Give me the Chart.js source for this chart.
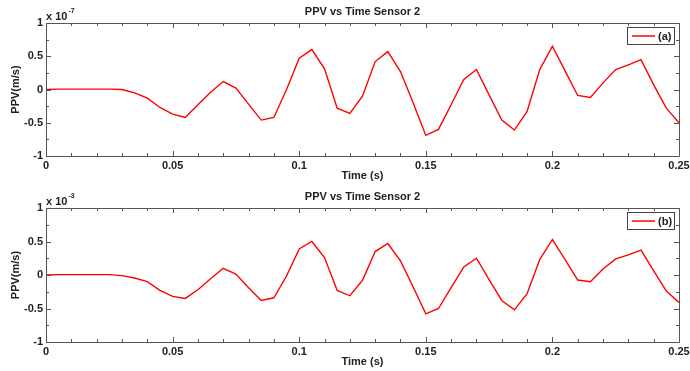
<!DOCTYPE html>
<html>
<head>
<meta charset="utf-8">
<script src="https://cdn.jsdelivr.net/npm/chart.js@4/dist/chart.umd.min.js"></script>
<style>
    html, body { margin: 0; padding: 0; background: #fff; }
    .plot { position: absolute; left: 0; width: 690px; }
    #chartA { top: 0; height: 185px; }
    #chartB { top: 185px; height: 186px; }
</style>
</head>
<body>
<div class="plot" id="chartA"><canvas id="canvasA" width="690" height="185"></canvas></div>
<div class="plot" id="chartB"><canvas id="canvasB" width="690" height="186"></canvas></div>
<script>
// Time samples (s)
const timeValues = [
    0, 0.005, 0.01, 0.015, 0.02, 0.025, 0.03, 0.035, 0.04, 0.045,
    0.05, 0.055, 0.06, 0.065, 0.07, 0.075, 0.08, 0.085, 0.09, 0.095,
    0.1, 0.105, 0.11, 0.115, 0.12, 0.125, 0.13, 0.135, 0.14, 0.145,
    0.15, 0.155, 0.16, 0.165, 0.17, 0.175, 0.18, 0.185, 0.19, 0.195,
    0.2, 0.205, 0.21, 0.215, 0.22, 0.225, 0.23, 0.235, 0.24, 0.245, 0.25
];

// PPV (a), in units of 10^-7 m/s
const ppvA = [
    0, 0.005, 0.005, 0.005, 0.005, 0.005, 0, -0.05, -0.13, -0.27,
    -0.37, -0.42, -0.23, -0.04, 0.12, 0.02, -0.22, -0.46, -0.42, 0.0,
    0.47, 0.6, 0.31, -0.28, -0.36, -0.1, 0.42, 0.57, 0.27, -0.2,
    -0.69, -0.6, -0.23, 0.15, 0.3, -0.08, -0.46, -0.61, -0.33, 0.3,
    0.65, 0.28, -0.09, -0.12, 0.1, 0.3, 0.37, 0.45, 0.07, -0.28, -0.5
];

// PPV (b), in units of 10^-3 m/s
const ppvB = [
    0, 0.005, 0.005, 0.005, 0.005, 0.005, -0.01, -0.045, -0.1, -0.23,
    -0.32, -0.35, -0.22, -0.055, 0.1, 0.015, -0.19, -0.38, -0.34, -0.015,
    0.39, 0.5, 0.26, -0.23, -0.31, -0.08, 0.35, 0.47, 0.21, -0.18,
    -0.58, -0.5, -0.19, 0.12, 0.25, -0.07, -0.38, -0.52, -0.28, 0.23,
    0.53, 0.23, -0.075, -0.1, 0.09, 0.24, 0.3, 0.37, 0.06, -0.24, -0.41
];

const xTickLabels = ['0', '0.05', '0.1', '0.15', '0.2', '0.25'];
const yTickLabels = ['-1', '-0.5', '0', '0.5', '1'];

const FONT = '"Liberation Sans", Arial, Helvetica, sans-serif';
const AXIS_COLOR = '#555';
const TEXT_COLOR = '#222';

// Draws the matlab-like box, inward ticks, title, exponent and legend
const matlabFrame = {
    id: 'matlabFrame',
    afterDatasetsDraw(chart, args, opts) {
        const ctx = chart.ctx;
        const area = chart.chartArea;
        const xs = chart.scales.x;
        const ys = chart.scales.y;
        ctx.save();
        ctx.strokeStyle = AXIS_COLOR;
        ctx.lineWidth = 1;
        ctx.beginPath();
        ctx.rect(Math.round(area.left) + 0.5, Math.round(area.top) + 0.5,
            Math.round(area.right - area.left), Math.round(area.bottom - area.top));
        ctx.stroke();

        // x ticks every 0.01, longer at labelled positions
        ctx.beginPath();
        for (let i = 0; i <= 25; i++) {
            const px = Math.round(xs.getPixelForValue(i / 100)) + 0.5;
            const len = i % 5 === 0 ? 5 : 3;
            ctx.moveTo(px, area.bottom); ctx.lineTo(px, area.bottom - len);
            ctx.moveTo(px, area.top); ctx.lineTo(px, area.top + len);
        }
        // y ticks every 0.25
        for (let j = -4; j <= 4; j++) {
            const py = Math.round(ys.getPixelForValue(j / 4)) + 0.5;
            const len = j % 2 === 0 ? 5 : 3;
            ctx.moveTo(area.left, py); ctx.lineTo(area.left + len, py);
            ctx.moveTo(area.right, py); ctx.lineTo(area.right - len, py);
        }
        ctx.stroke();

        // title
        ctx.fillStyle = TEXT_COLOR;
        ctx.font = 'bold 11px ' + FONT;
        ctx.textAlign = 'center';
        ctx.textBaseline = 'middle';
        ctx.fillText(opts.title, (area.left + area.right) / 2, 12);

        // exponent label
        ctx.textAlign = 'left';
        ctx.font = 'bold 11px ' + FONT;
        ctx.fillText('x 10', area.left, 17);
        const w = ctx.measureText('x 10').width;
        ctx.font = 'bold 7px ' + FONT;
        ctx.fillText(opts.exponent, area.left + w + 1, 11);

        // legend box
        const bx = 627.5, by = 27.5, bw = 47, bh = 17;
        ctx.fillStyle = '#fff';
        ctx.fillRect(bx, by, bw, bh);
        ctx.strokeStyle = '#444';
        ctx.strokeRect(bx, by, bw, bh);
        ctx.strokeStyle = 'rgb(255,0,0)';
        ctx.lineWidth = 1.5;
        ctx.beginPath();
        ctx.moveTo(632, by + bh / 2);
        ctx.lineTo(655, by + bh / 2);
        ctx.stroke();
        ctx.fillStyle = TEXT_COLOR;
        ctx.font = 'bold 11px ' + FONT;
        ctx.textBaseline = 'middle';
        ctx.fillText(opts.label, 658, by + bh / 2 + 0.5);
        ctx.restore();
    }
};

function buildChart(canvasId, series, label, exponent) {
    const points = timeValues.map((t, i) => ({ x: t, y: series[i] }));
    return new Chart(document.getElementById(canvasId).getContext('2d'), {
        type: 'line',
        data: {
            datasets: [{
                label: label,
                data: points,
                borderColor: 'rgb(255, 0, 0)',
                borderWidth: 1.4,
                pointRadius: 0,
                tension: 0,
                fill: false
            }]
        },
        options: {
            responsive: false,
            animation: false,
            layout: { padding: { top: 23, right: 11, left: 0, bottom: 0 } },
            plugins: {
                legend: { display: false },
                tooltip: { enabled: false },
                matlabFrame: { title: 'PPV vs Time Sensor 2', exponent: exponent, label: label }
            },
            scales: {
                x: {
                    type: 'linear',
                    min: 0,
                    max: 0.25,
                    grid: { display: false, drawTicks: false },
                    border: { display: false },
                    afterFit: scale => {
                        scale.height = 29;
                        scale.paddingLeft = 0;
                        scale.paddingRight = 0;
                    },
                    afterBuildTicks: scale => {
                        scale.ticks = xTickLabels.map(v => ({ value: parseFloat(v) }));
                    },
                    ticks: {
                        autoSkip: false,
                        maxRotation: 0,
                        padding: 3,
                        color: TEXT_COLOR,
                        font: { family: FONT, size: 11, weight: 'bold' },
                        callback: (v, i) => xTickLabels[i]
                    },
                    title: {
                        display: true,
                        text: 'Time (s)',
                        color: TEXT_COLOR,
                        padding: { top: 0, bottom: 2 },
                        font: { family: FONT, size: 11, weight: 'bold' }
                    }
                },
                y: {
                    min: -1,
                    max: 1,
                    grid: { display: false, drawTicks: false },
                    border: { display: false },
                    afterFit: scale => {
                        scale.width = 46;
                        scale.paddingTop = 0;
                        scale.paddingBottom = 0;
                    },
                    afterBuildTicks: scale => {
                        scale.ticks = yTickLabels.map(v => ({ value: parseFloat(v) }));
                    },
                    ticks: {
                        padding: 3,
                        color: TEXT_COLOR,
                        font: { family: FONT, size: 11, weight: 'bold' },
                        callback: (v, i) => yTickLabels[i]
                    },
                    title: {
                        display: true,
                        text: 'PPV(m/s)',
                        color: TEXT_COLOR,
                        padding: { top: 9, bottom: 0 },
                        font: { family: FONT, size: 11, weight: 'bold' }
                    }
                }
            }
        },
        plugins: [matlabFrame]
    });
}

buildChart('canvasA', ppvA, '(a)', '-7');
buildChart('canvasB', ppvB, '(b)', '-3');
</script>
</body>
</html>
